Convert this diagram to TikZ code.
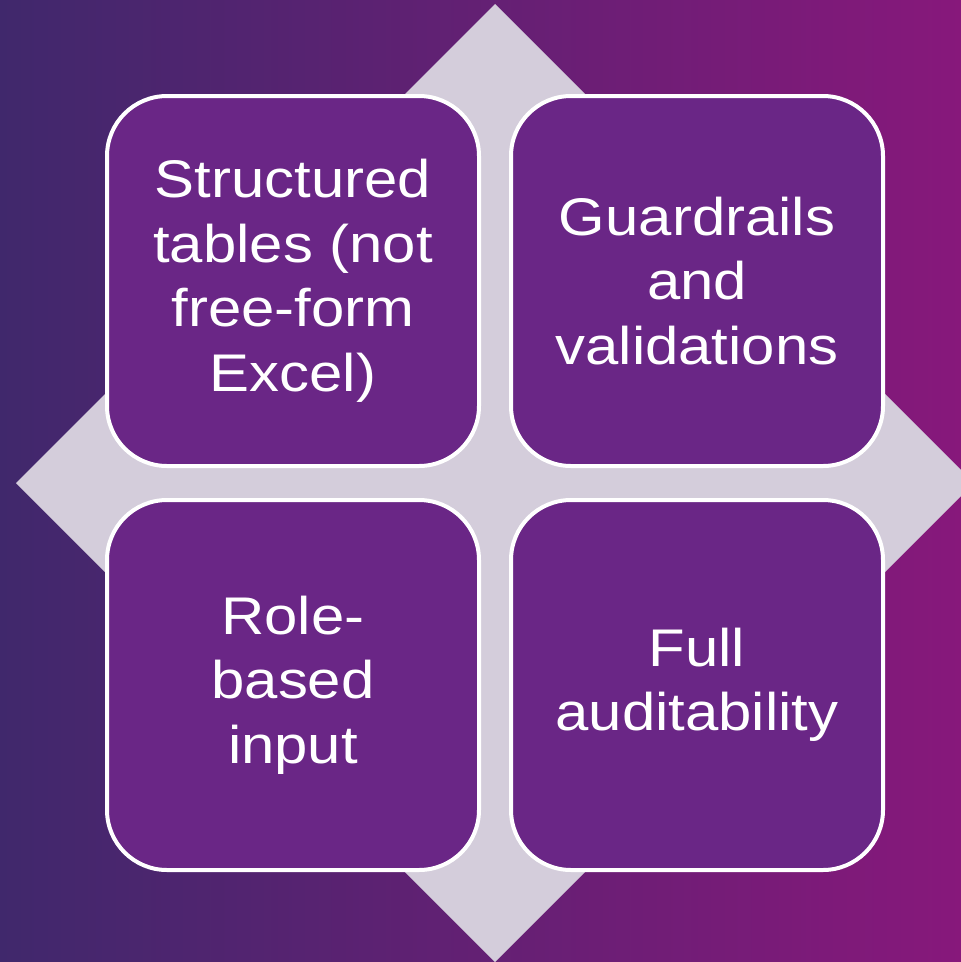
\documentclass[tikz,border=0pt]{standalone}
\usepackage{fontspec}
\setmainfont{Liberation Sans}[FakeStretch=1.13]
\definecolor{bgL}{HTML}{40286C}
\definecolor{bgR}{HTML}{87187B}
\definecolor{dia}{HTML}{D4CDDB}
\definecolor{boxfill}{HTML}{6A2686}
\begin{document}
\begin{tikzpicture}[x=1pt,y=-1pt,
  tile/.style={draw=white, line width=4pt, fill=boxfill, rounded corners=60pt,
    minimum width=372pt, minimum height=370pt, inner sep=0pt,
    text=white, align=center, font=\fontsize{53}{64.5}\selectfont}]
\useasboundingbox (0,0) rectangle (961,962);
\shade[left color=bgL, right color=bgR] (0,0) rectangle (961,962);
\fill[dia] (495,4) -- (974,483) -- (495,962) -- (16,483) -- cycle;
\node[tile] (tl) at (293,281) {Structured\\tables (not\\free-form\\Excel)};
\node[tile] (tr) at (697,281) {Guardrails\\and\\validations};
\node[tile] (bl) at (293,685) {Role-\\based\\input};
\node[tile] (br) at (697,685) {Full\\auditability};
\end{tikzpicture}
\end{document}
